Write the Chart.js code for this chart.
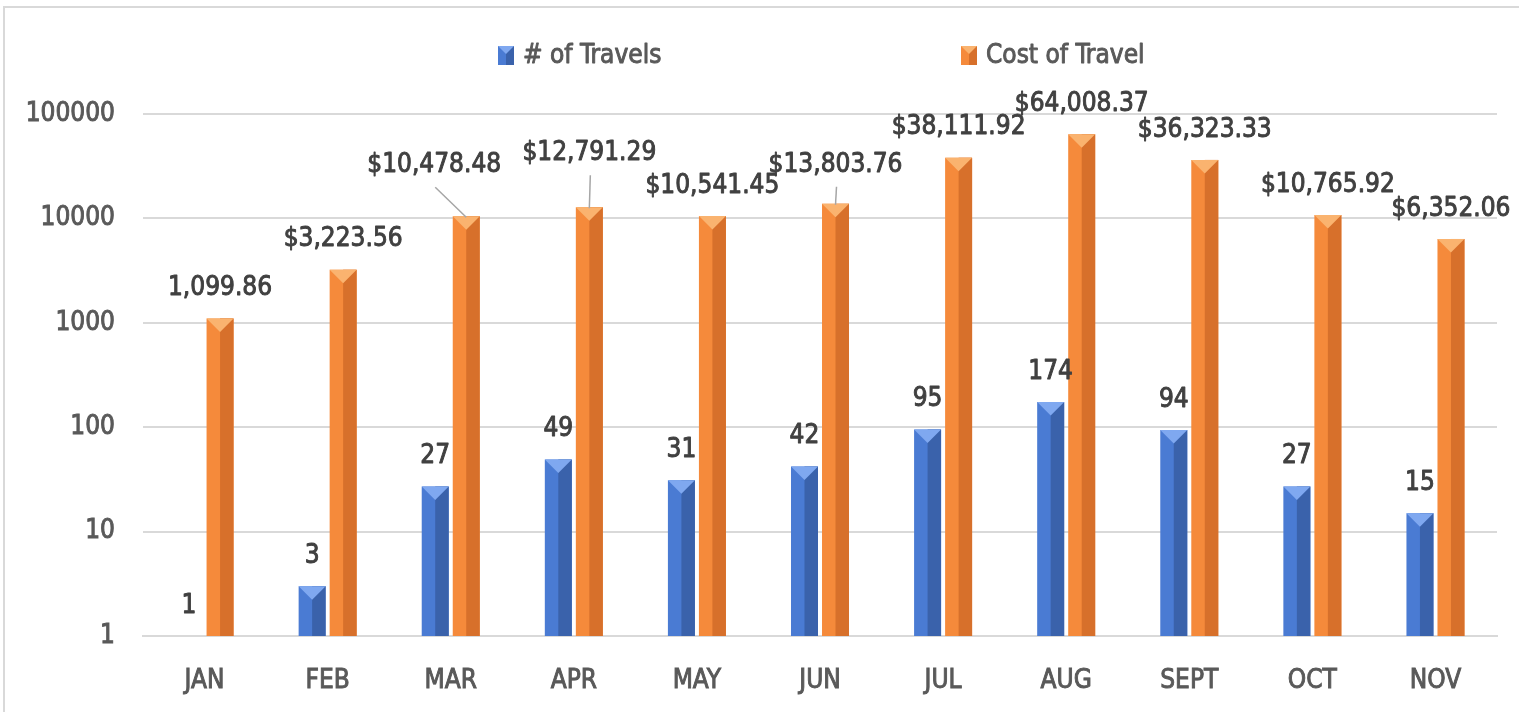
<!DOCTYPE html>
<html><head><meta charset="utf-8">
<script src="https://cdn.jsdelivr.net/npm/chart.js@4.4.1/dist/chart.umd.min.js"></script>
<style>
html,body{margin:0;padding:0;background:#fff;overflow:hidden}
#frame{position:absolute;left:3px;top:6px;width:1540px;height:740px;border:2px solid #d9d9d9;box-sizing:border-box}
#wrap{position:absolute;left:0;top:0;width:1519px;height:712px}
</style></head><body>
<div id="frame"></div>
<div id="wrap"><canvas id="c" width="1519" height="712"></canvas></div>
<script>
const months = ['JAN','FEB','MAR','APR','MAY','JUN','JUL','AUG','SEPT','OCT','NOV'];
const travels = [1,3,27,49,31,42,95,174,94,27,15];
const costs = [1099.86,3223.56,10478.48,12791.29,10541.45,13803.76,38111.92,64008.37,36323.33,10765.92,6352.06];
const travelLabels = ['1','3','27','49','31','42','95','174','94','27','15'];
const costLabels = ['1,099.86','$3,223.56','$10,478.48','$12,791.29','$10,541.45','$13,803.76','$38,111.92','$64,008.37','$36,323.33','$10,765.92','$6,352.06'];
const yTicks = [1,10,100,1000,10000,100000];

const FONT = "'DejaVu Sans Condensed',sans-serif";
const STROKE = 0.9;
const styles = [
  {main:'#4a7bd3', dark:'#3a62ab', light:'#7fa8f0'},
  {main:'#f58a3b', dark:'#d7702b', light:'#fab36f'}
];
// label placement tweaks (series index -> point index -> shift)
const labelShift = {1:{2:{dx:-32,dy:-21,leader:true},3:{dx:0,dy:-24,leader:true},5:{dx:0,dy:-9,leader:true}}};

function bevel(ctx, left, top, w, h, st){
  ctx.fillStyle = st.dark;
  ctx.fillRect(left + w/2, top, w/2, h);
  const d = Math.min(w/2, h);
  ctx.fillStyle = st.light;
  ctx.beginPath();
  ctx.moveTo(left, top); ctx.lineTo(left + w, top); ctx.lineTo(left + w/2, top + d); ctx.closePath();
  ctx.fill();
}
function heavyText(ctx, txt, x, y, color){
  ctx.fillStyle = color; ctx.strokeStyle = color; ctx.lineWidth = STROKE; ctx.lineJoin = 'round';
  ctx.strokeText(txt, x, y);
  ctx.fillText(txt, x, y);
}

const decor = {
  id:'decor',
  afterDatasetsDraw(chart){
    const ctx = chart.ctx;
    ctx.save();
    chart.data.datasets.forEach((ds, i) => {
      const meta = chart.getDatasetMeta(i);
      meta.data.forEach((el) => {
        const h = el.base - el.y;
        if (h <= 0) return;
        bevel(ctx, el.x - el.width/2, el.y, el.width, h, styles[i]);
      });
    });
    // data labels
    ctx.font = '26px ' + FONT;
    ctx.textAlign = 'center';
    ctx.textBaseline = 'middle';
    const lbls = [travelLabels, costLabels];
    chart.data.datasets.forEach((ds, i) => {
      const meta = chart.getDatasetMeta(i);
      meta.data.forEach((el, j) => {
        const s = (labelShift[i] && labelShift[i][j]) || {dx:0, dy:0};
        const lx = el.x + s.dx, ly = el.y - 30 + s.dy;
        if (s.leader){
          ctx.strokeStyle = '#a6a6a6'; ctx.lineWidth = 1.5;
          ctx.beginPath(); ctx.moveTo(lx + 1, ly + 22); ctx.lineTo(el.x, el.y + 1); ctx.stroke();
        }
        heavyText(ctx, lbls[i][j], lx, ly, '#404040');
      });
    });
    // legend
    const items = [{x:498, label:chart.data.datasets[0].label}, {x:961, label:chart.data.datasets[1].label}];
    items.forEach((it, i) => {
      ctx.fillStyle = styles[i].main;
      ctx.fillRect(it.x, 46, 16, 19);
      bevel(ctx, it.x, 46, 16, 19, styles[i]);
      ctx.textAlign = 'left';
      heavyText(ctx, it.label, it.x + 25, 56, '#595959');
    });
    ctx.restore();
  }
};

new Chart(document.getElementById('c'), {
  type:'bar',
  data:{
    labels: months,
    datasets:[
      {label:'# of Travels', data: travels, backgroundColor: styles[0].main, categoryPercentage:0.504, barPercentage:0.87},
      {label:'Cost of Travel', data: costs, backgroundColor: styles[1].main, categoryPercentage:0.504, barPercentage:0.87}
    ]
  },
  options:{
    responsive:false,
    animation:false,
    events:[],
    layout:{padding:{top:114, right:22, bottom:0, left:0}},
    plugins:{legend:{display:false}, tooltip:{enabled:false}},
    scales:{
      x:{
        grid:{display:false, drawTicks:false},
        border:{display:true, color:'#d9d9d9', width:2},
        ticks:{color:'#595959', font:{family:FONT, size:26}, padding:30, textStrokeColor:'#595959', textStrokeWidth:STROKE},
        afterFit(s){ s.height = 76; }
      },
      y:{
        type:'logarithmic', min:1, max:100000,
        grid:{color:'#d9d9d9', lineWidth:2, drawTicks:false},
        border:{display:false},
        ticks:{color:'#595959', font:{family:FONT, size:26}, padding:28, textStrokeColor:'#595959', textStrokeWidth:STROKE,
          callback:(v) => yTicks.includes(v) ? String(v) : ''},
        afterBuildTicks(s){ s.ticks = yTicks.map(v => ({value:v})); },
        afterFit(s){ s.width = 143; }
      }
    }
  },
  plugins:[decor]
});
</script>
</body></html>
